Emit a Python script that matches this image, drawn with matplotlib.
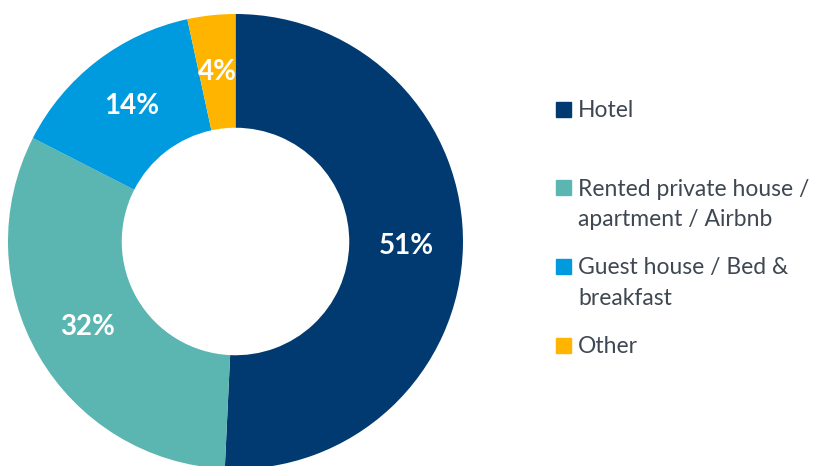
import numpy as np
import matplotlib
matplotlib.use("Agg")
import matplotlib.pyplot as plt
from matplotlib.patches import Rectangle

categories = ["Hotel", "Rented private house /\napartment / Airbnb", "Guest house / Bed &\nbreakfast", "Other"]
values = [50.8, 31.8, 14.1, 3.4]
value_labels = ["51%", "32%", "14%", "4%"]
colors = ["#003A70", "#5BB5B0", "#009ADE", "#FFB500"]

plt.rcParams['font.family'] = ['Lato', 'DejaVu Sans']

W, H = 822, 466
fig = plt.figure(figsize=(W / 100, H / 100), dpi=100)
fig.patch.set_facecolor("white")

cx, cy, R = 235.5, 224.5, 227.5
ax = fig.add_axes([(cx - R) / W, (cy - R) / H, 2 * R / W, 2 * R / H])
wedges, _ = ax.pie(values, colors=colors, startangle=90, counterclock=False,
                   radius=1.0, wedgeprops=dict(width=0.5, edgecolor="none"))
ax.set_xlim(-1, 1)
ax.set_ylim(-1, 1)
ax.set_aspect("equal")
ax.axis("off")

for w, lab in zip(wedges, value_labels):
    ang = np.deg2rad((w.theta1 + w.theta2) / 2)
    r = 0.75
    ax.text(r * np.cos(ang), r * np.sin(ang), lab, ha="center", va="center",
            color="white", fontsize=20, fontweight="bold")

# legend
sq = 15
sq_x = 556
text_x = 578
sq_centers = [109, 187.5, 266, 345]
text_color = "#3F4852"
for c, lab, yc in zip(colors, categories, sq_centers):
    fig.patches.append(Rectangle((sq_x / W, (H - yc - sq / 2) / H), sq / W, sq / H,
                                 transform=fig.transFigure, color=c, figure=fig))
    fig.text(text_x / W, (H - yc + 9) / H, lab, ha="left", va="top",
             color=text_color, fontsize=16.5, linespacing=1.58)

fig.savefig("out.png", dpi=100, facecolor="white")
